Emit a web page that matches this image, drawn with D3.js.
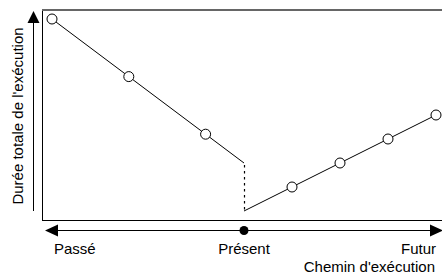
<!DOCTYPE html>
<html>
<head>
<meta charset="utf-8">
<script src="https://cdn.jsdelivr.net/npm/d3@7"></script>
<style>
  html, body { margin: 0; padding: 0; background: #fff; }
  svg { display: block; font-family: "Liberation Sans", Arial, sans-serif; }
</style>
</head>
<body>
<div id="chart"></div>
<script>
// Execution path: past segment (decreasing) and future segment (increasing)
const pastX = [-1, -0.6, -0.2, 0];
const pastY = [10, 7, 4, 2.5];
const futureX = [0, 0.25, 0.5, 0.75, 1];
const futureY = [0, 1.25, 2.5, 3.75, 5];
const timeLabels = ['Passé', 'Présent', 'Futur'];
const timeValues = [-1, 0, 1];

const width = 442, height = 275;

const svg = d3.select('#chart')
    .append('svg')
    .attr('width', width)
    .attr('height', height);

const x = d3.scaleLinear().domain([-1, 1]).range([52, 436]);
const y = d3.scaleLinear().domain([0, 10]).range([211, 19]);

// Frame (left + bottom black, top gray)
svg.append('line')
    .attr('x1', 42.5).attr('y1', 10).attr('x2', 42.5).attr('y2', 221)
    .attr('stroke', '#000').attr('stroke-width', 1);
svg.append('line')
    .attr('x1', 42).attr('y1', 220.5).attr('x2', width).attr('y2', 220.5)
    .attr('stroke', '#000').attr('stroke-width', 1);
svg.append('line')
    .attr('x1', 42).attr('y1', 10).attr('x2', width).attr('y2', 10)
    .attr('stroke', '#666').attr('stroke-width', 2);

// Y arrow
svg.append('line')
    .attr('x1', 33.5).attr('y1', 211).attr('x2', 33.5).attr('y2', 22)
    .attr('stroke', '#000').attr('stroke-width', 1);
svg.append('path')
    .attr('d', 'M33.5,11 L27.5,23 L39.5,23 Z')
    .attr('fill', '#000');

// X arrow
const axisY = 230.5;
svg.append('line')
    .attr('x1', 50).attr('y1', axisY).attr('x2', 436).attr('y2', axisY)
    .attr('stroke', '#000').attr('stroke-width', 1);
svg.append('path')
    .attr('d', `M45,${axisY} L58,${axisY - 6} L58,${axisY + 6} Z`)
    .attr('fill', '#000');
svg.append('path')
    .attr('d', `M443,${axisY} L430,${axisY - 6} L430,${axisY + 6} Z`)
    .attr('fill', '#000');
svg.append('circle')
    .attr('cx', x(0)).attr('cy', axisY).attr('r', 4.5)
    .attr('fill', '#000');

// Time labels
svg.selectAll('.time-label')
    .data(timeLabels)
    .enter()
    .append('text')
    .attr('class', 'time-label')
    .attr('x', (d, i) => i === 0 ? x(timeValues[i]) + 2 : x(timeValues[i]))
    .attr('y', 254)
    .attr('text-anchor', (d, i) => ['start', 'middle', 'end'][i])
    .attr('font-size', '15px')
    .text(d => d);

svg.append('text')
    .attr('x', 435).attr('y', 272)
    .attr('text-anchor', 'end')
    .attr('font-size', '15px')
    .text("Chemin d'exécution");

svg.append('text')
    .attr('transform', 'translate(23,116) rotate(-90)')
    .attr('text-anchor', 'middle')
    .attr('font-size', '15px')
    .text("Durée totale de l'exécution");

// Lines
const line = d3.line().x(d => x(d[0])).y(d => y(d[1]));
const past = pastX.map((v, i) => [v, pastY[i]]);
const future = futureX.map((v, i) => [v, futureY[i]]);

svg.append('path')
    .attr('d', line(past))
    .attr('fill', 'none').attr('stroke', '#000').attr('stroke-width', 1);
svg.append('path')
    .attr('d', line(future))
    .attr('fill', 'none').attr('stroke', '#000').attr('stroke-width', 1);

// Dotted drop at present (half-pixel offset for a crisp line)
svg.append('line')
    .attr('x1', x(0) + 0.5).attr('y1', y(pastY[pastY.length - 1]) + 2)
    .attr('x2', x(0) + 0.5).attr('y2', y(futureY[0]))
    .attr('stroke', '#000').attr('stroke-width', 1.2)
    .attr('stroke-dasharray', '2.5,3.5');

// Markers (not on the present point)
const markers = past.slice(0, -1).concat(future.slice(1));
svg.selectAll('.marker')
    .data(markers)
    .enter()
    .append('circle')
    .attr('class', 'marker')
    .attr('cx', d => x(d[0]))
    .attr('cy', d => y(d[1]))
    .attr('r', 5)
    .attr('fill', '#fff')
    .attr('stroke', '#000')
    .attr('stroke-width', 1);
</script>
</body>
</html>
